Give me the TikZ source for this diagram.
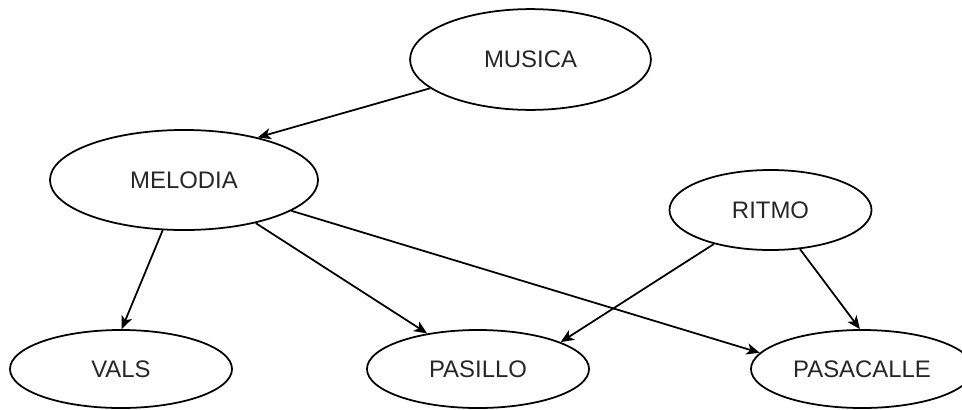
\documentclass[tikz,border=0pt]{standalone}
\usepackage{fontspec}
\setmainfont{Liberation Sans}
\usetikzlibrary{shapes.geometric,arrows.meta}

\tikzset{
	estado/.style={draw,ellipse,inner sep=0pt,line width=1.25pt,text=black!85},
	flecha/.style={line width=1.25pt,-{Stealth[length=3.3mm,width=2.8mm,inset=0.9mm]}}
}

\begin{document}
\begin{tikzpicture}[x=0.025cm,y=-0.025cm,font=\fontsize{17}{20}\selectfont]
	\useasboundingbox (0,0) rectangle (962,409);

	%nodes
	\node[estado,minimum width=6.02cm,minimum height=2.52cm] (musica) at (530.5,59.5) {MUSICA};
	\node[estado,minimum width=6.7cm,minimum height=2.5cm] (melodia) at (184,180) {MELODIA};
	\node[estado,minimum width=5.05cm,minimum height=2cm] (ritmo) at (770.5,210) {RITMO};
	\node[estado,minimum width=5.55cm,minimum height=1.95cm] (vals) at (121,369) {VALS};
	\node[estado,minimum width=5.55cm,minimum height=1.95cm] (pasillo) at (478,369) {PASILLO};
	\node[estado,minimum width=5.55cm,minimum height=1.95cm] (pasacalle) at (862,369) {PASACALLE};

	%edges
	\draw[flecha] (musica.196) -- (melodia.30); %musica
	\draw[flecha] (melodia.247) -- (vals.89);
	\draw[flecha] (melodia.329) -- (pasillo.145);
	\draw[flecha] (melodia.344) -- (pasacalle.171);
	\draw[flecha] (ritmo.211) -- (pasillo.18); %ritmo
	\draw[flecha] (ritmo.307) -- (pasacalle.93);
\end{tikzpicture}
\end{document}
